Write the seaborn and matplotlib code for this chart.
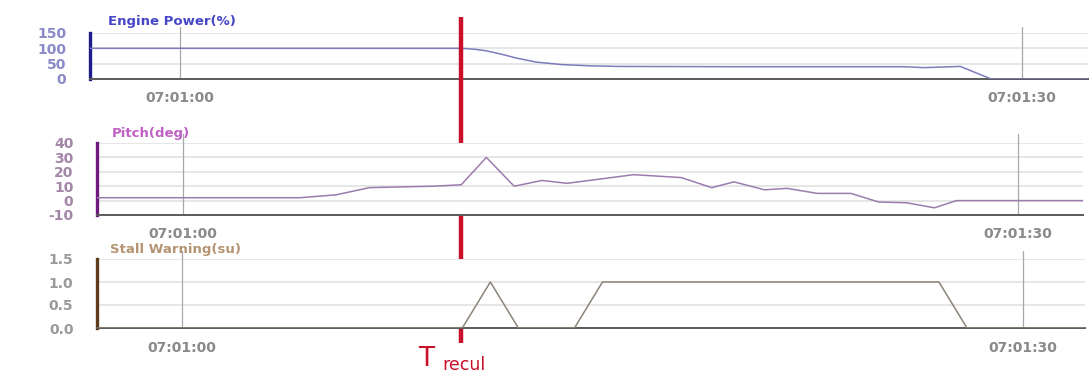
import pandas as pd
import numpy as np
import matplotlib
matplotlib.use("Agg")
import matplotlib.pyplot as plt
import matplotlib.dates as mdates
from matplotlib.transforms import blended_transform_factory
import seaborn as sns

# ------------------- data (seconds after 07:01:00) -------------------
power_t = [-3.2, 10, 10.5, 10.9, 11.4, 12.0, 12.7, 13.6, 14.6, 15.6, 20, 25.8, 26.5, 27.8, 28.9, 32.4]
power_v = [100, 100, 97, 92, 82, 68, 55, 47, 43, 41, 40, 40, 37, 41, 0, 0]

pitch_t = [-3.1, 4.2, 5.5, 6.7, 9.0, 10, 10.9, 11.9, 12.9, 13.8, 16.2, 17.9,
           19.0, 19.8, 20.9, 21.7, 22.8, 24.0, 25.0, 26.0, 27.0, 27.8, 32.4]
pitch_v = [2, 2, 4, 9, 10, 11, 30, 10, 14, 12, 18, 16,
           9, 13, 7.5, 8.5, 5, 5, -1, -1.5, -5, 0, 0]

stall_t = [-3.0, 10, 11, 12, 14, 15, 27, 28, 32.3]
stall_v = [0, 0, 1, 0, 0, 1, 1, 0, 0]

t_recul = 10
tick_secs = [0, 30]

power_ticks = [0, 50, 100, 150]
pitch_ticks = [-10, 0, 10, 20, 30, 40]
stall_ticks = [0.0, 0.5, 1.0, 1.5]
stall_ticklabels = ["0.0", "0.5", "1.0", "1.5"]

base = pd.Timestamp("2000-01-01 07:01:00")


def to_time(secs):
    return base + pd.to_timedelta(np.asarray(secs, dtype=float), unit="s")


sns.set_style("white")
plt.rcParams["font.family"] = ["DejaVu Sans"]
plt.rcParams["axes.unicode_minus"] = False

W, H = 1091, 376
fig = plt.figure(figsize=(W / 100, H / 100), dpi=100)


def make_ax(left, right, top, bottom):
    return fig.add_axes([left / W, 1 - bottom / H, (right - left) / W, (bottom - top) / H])


panels = [
    # ax box px, xlim secs, data, ylim, ticks, colours, title
    dict(box=(90, 1088, 33, 79), xlim=(-3.21, 32.35), t=power_t, v=power_v,
         ylim=(0, 150), ticks=power_ticks, labels=None,
         spine="#1c1c8a", line="#7c7cbc", tick="#8a8ac8", title="Engine Power(%)",
         tcol="#4646c8", tpos=(108, 22)),
    dict(box=(97, 1083, 143, 215), xlim=(-3.09, 32.34), t=pitch_t, v=pitch_v,
         ylim=(-10, 40), ticks=pitch_ticks, labels=None,
         spine="#6e1a7e", line="#9c7cae", tick="#a486a8", title="Pitch(deg)",
         tcol="#c060c4", tpos=(112, 133)),
    dict(box=(97, 1085, 259, 328), xlim=(-3.03, 32.21), t=stall_t, v=stall_v,
         ylim=(0, 1.5), ticks=stall_ticks, labels=stall_ticklabels,
         spine="#5e3c1c", line="#8c8478", tick="#9a9a9a", title="Stall Warning(su)",
         tcol="#b49472", tpos=(110, 250)),
]

axes = []
for p in panels:
    ax = make_ax(*p["box"])
    df = pd.DataFrame({"time": to_time(p["t"]), "value": p["v"]})
    sns.lineplot(data=df, x="time", y="value", ax=ax, color=p["line"],
                 linewidth=1.1, estimator=None, zorder=3)
    ax.set_xlim(to_time(p["xlim"]))
    ax.set_ylim(*p["ylim"])
    ax.set_xlabel("")
    ax.set_ylabel("")

    # horizontal grid at the y ticks, vertical marks at the time ticks
    ax.set_yticks(p["ticks"])
    if p["labels"] is not None:
        ax.set_yticklabels(p["labels"])
    for yv in p["ticks"][1:]:
        ax.axhline(yv, color="#e2e2e2", linewidth=1.2, zorder=1)
    for s in tick_secs:
        ax.axvline(to_time([s])[0], ymax=1.12, color="#a8a8a8", linewidth=0.9,
                   zorder=2, clip_on=False)

    ax.set_xticks(to_time(tick_secs))
    ax.xaxis.set_major_formatter(mdates.DateFormatter("%H:%M:%S"))

    for side in ["top", "right"]:
        ax.spines[side].set_visible(False)
    ax.spines["left"].set_color(p["spine"])
    ax.spines["left"].set_linewidth(2.4)
    ax.spines["bottom"].set_color("#5a5a5a")
    ax.spines["bottom"].set_linewidth(1.4)

    ax.tick_params(axis="y", length=11, width=1.0, color="#b8b8c8", pad=6,
                   labelsize=10, labelcolor=p["tick"])
    ax.tick_params(axis="x", length=3, width=2.0, color="#333333", pad=6,
                   labelsize=10, labelcolor="#8a8a8a")
    for lab in ax.get_xticklabels() + ax.get_yticklabels():
        lab.set_fontweight("bold")

    fig.text(p["tpos"][0] / W, 1 - p["tpos"][1] / H, p["title"], color=p["tcol"],
             fontsize=9.5, fontweight="bold", ha="left", va="center")
    axes.append(ax)

# ------------------- T_recul marker -------------------
ax1 = axes[0]
trans = blended_transform_factory(ax1.transData, fig.transFigure)
xr = mdates.date2num(to_time([t_recul])[0])
ax1.plot([xr, xr], [1 - 17 / H, 1 - 343 / H], transform=trans, color="#c8102a",
         linewidth=3.2, clip_on=False, zorder=10, solid_capstyle="butt")

fig.text(418 / W, 1 - 359 / H, "T", color="#c8102a", fontsize=19,
         ha="left", va="center")
fig.text(442 / W, 1 - 365 / H, "recul", color="#c8102a", fontsize=12.5,
         ha="left", va="center")

fig.savefig("out.png", dpi=100)
